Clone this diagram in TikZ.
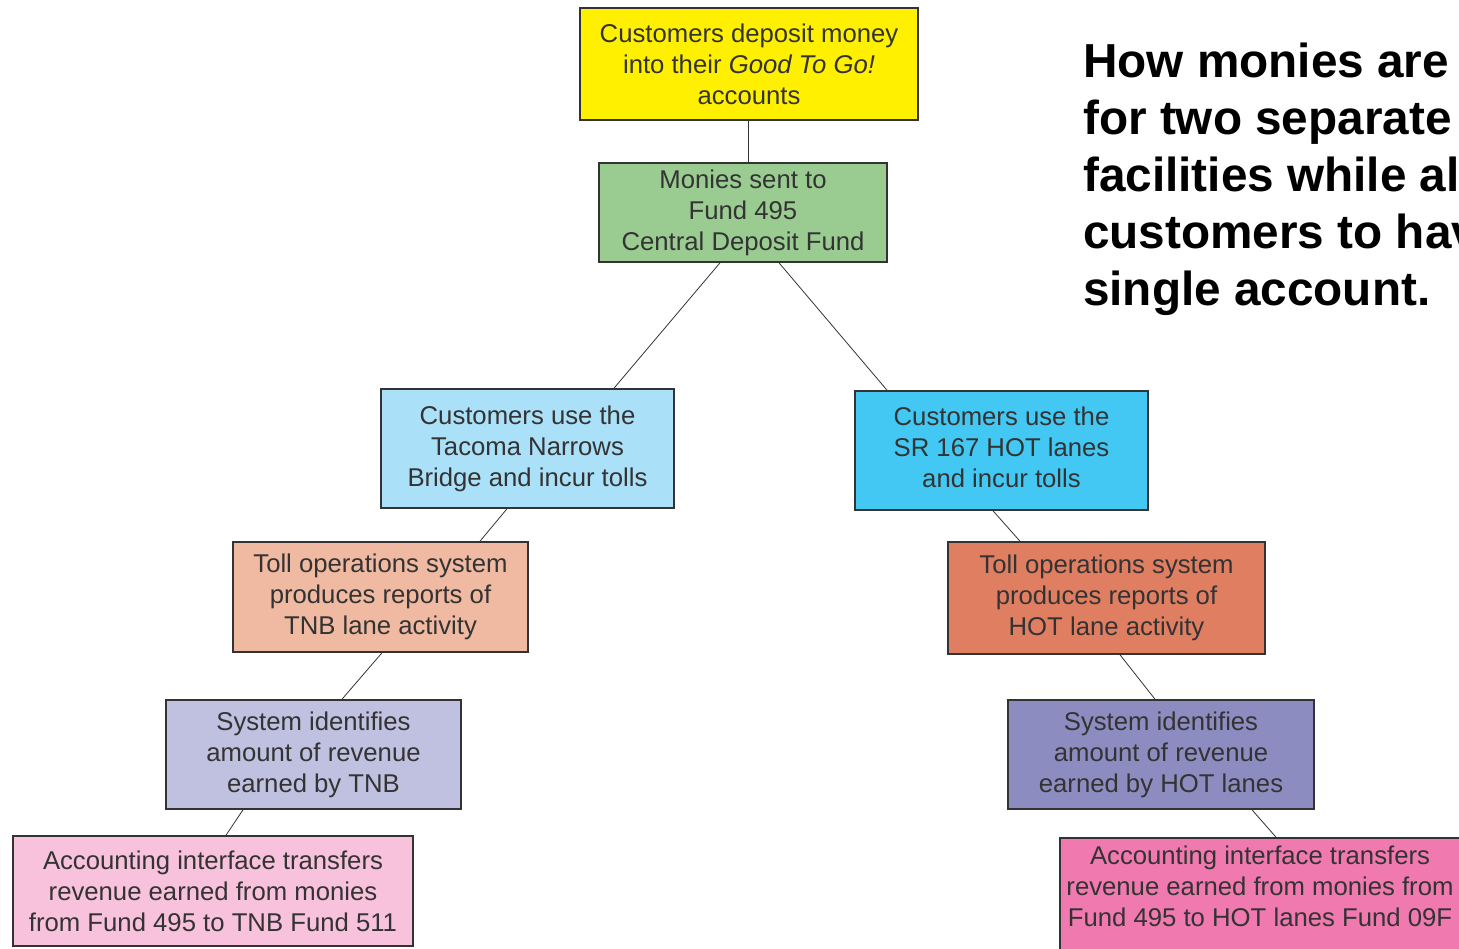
\documentclass[tikz,border=0pt]{standalone}
\usepackage{fontspec}
\setmainfont{Liberation Sans}
\usepackage{tikz}
\usetikzlibrary{positioning}
\definecolor{boxline}{RGB}{51,51,51}
\definecolor{depyellow}{RGB}{255,240,0}
\definecolor{fundgreen}{RGB}{154,204,146}
\definecolor{tnbblue}{RGB}{170,224,248}
\definecolor{hotblue}{RGB}{66,200,242}
\definecolor{tnbsalmon}{RGB}{240,186,162}
\definecolor{hotsalmon}{RGB}{224,126,98}
\definecolor{tnblav}{RGB}{192,192,224}
\definecolor{hotlav}{RGB}{140,140,192}
\definecolor{tnbpink}{RGB}{248,194,220}
\definecolor{hotpink}{RGB}{240,122,176}

\begin{document}
\begin{tikzpicture}[x=1pt,y=-1pt,
	stepbox/.style={draw=boxline, line width=1.6pt, rectangle, align=center, text=boxline, inner sep=0pt,
		font=\fontsize{25.7}{31}\selectfont},
	link/.style={draw=boxline, line width=0.8pt}]
				\useasboundingbox (0,0) rectangle (1459,948);
				\clip (0,0) rectangle (1459,948);
				% top of the tree
				\node[stepbox, fill=depyellow, minimum width=338pt, minimum height=112pt] (deposit) at (749,64) {Customers deposit money\\into their \textit{Good To Go!}\\accounts};
				\node[stepbox, fill=fundgreen, minimum width=288pt, minimum height=99pt] (central) at (743,212.5) {Monies sent to\\Fund 495\\Central Deposit Fund};
				% Tacoma Narrows Bridge branch
				\node[stepbox, fill=tnbblue, minimum width=293pt, minimum height=119pt] (tnbuse) at (527.5,448.5) {Customers use the\\Tacoma Narrows\\Bridge and incur tolls};
				\node[stepbox, fill=tnbsalmon, minimum width=295pt, minimum height=110pt] (tnbreport) at (380.5,597) {Toll operations system\\produces reports of\\TNB lane activity};
				\node[stepbox, fill=tnblav, minimum width=295pt, minimum height=109pt] (tnbrevenue) at (313.5,754.5) {System identifies\\amount of revenue\\earned by TNB};
				\node[stepbox, fill=tnbpink, minimum width=400pt, minimum height=110pt] (tnbfund) at (213,891) {Accounting interface transfers\\revenue earned from monies\\from Fund 495 to TNB Fund 511};
				% SR 167 HOT lanes branch
				\node[stepbox, fill=hotblue, minimum width=293pt, minimum height=119pt] (hotuse) at (1001.5,450.5) {};
				\node[stepbox, draw=none] (hotusetext) at (1001.5,447.5) {Customers use the\\SR 167 HOT lanes\\and incur tolls};
				\node[stepbox, fill=hotsalmon, minimum width=317pt, minimum height=112pt] (hotreport) at (1106.5,598) {Toll operations system\\produces reports of\\HOT lane activity};
				\node[stepbox, fill=hotlav, minimum width=306pt, minimum height=109pt] (hotrevenue) at (1161,754.5) {System identifies\\amount of revenue\\earned by HOT lanes};
				\node[stepbox, fill=hotpink, minimum width=400pt, minimum height=124pt] (hotfund) at (1260,900) {};
				\node[stepbox, draw=none] (hotfundtext) at (1260,886) {Accounting interface transfers\\revenue earned from monies from\\Fund 495 to HOT lanes Fund 09F};
				% connectors
				\draw[link] ([xshift=-1pt]deposit.south) -- ([xshift=5pt]central.north);
				\draw[link] ([xshift=-23pt]central.south) -- ([xshift=86.5pt]tnbuse.north);
				\draw[link] ([xshift=36pt]central.south) -- ([xshift=-114.5pt]hotuse.north);
				\draw[link] ([xshift=-20.5pt]tnbuse.south) -- ([xshift=99.5pt]tnbreport.north);
				\draw[link] ([xshift=1.5pt]tnbreport.south) -- ([xshift=28.5pt]tnbrevenue.north);
				\draw[link] ([xshift=-70.5pt]tnbrevenue.south) -- ([xshift=13pt]tnbfund.north);
				\draw[link] ([xshift=-8.5pt]hotuse.south) -- ([xshift=-86.5pt]hotreport.north);
				\draw[link] ([xshift=13.5pt]hotreport.south) -- ([xshift=-6pt]hotrevenue.north);
				\draw[link] ([xshift=91pt]hotrevenue.south) -- ([xshift=16pt]hotfund.north);
				% heading
				\node[anchor=north west, inner sep=0pt, align=left, font=\fontsize{47.7}{57}\selectfont\bfseries] (heading) at (1083,43) {How monies are\\for two separate\\facilities while al\\customers to hav\\single account.};
				\end{tikzpicture}
\end{document}
